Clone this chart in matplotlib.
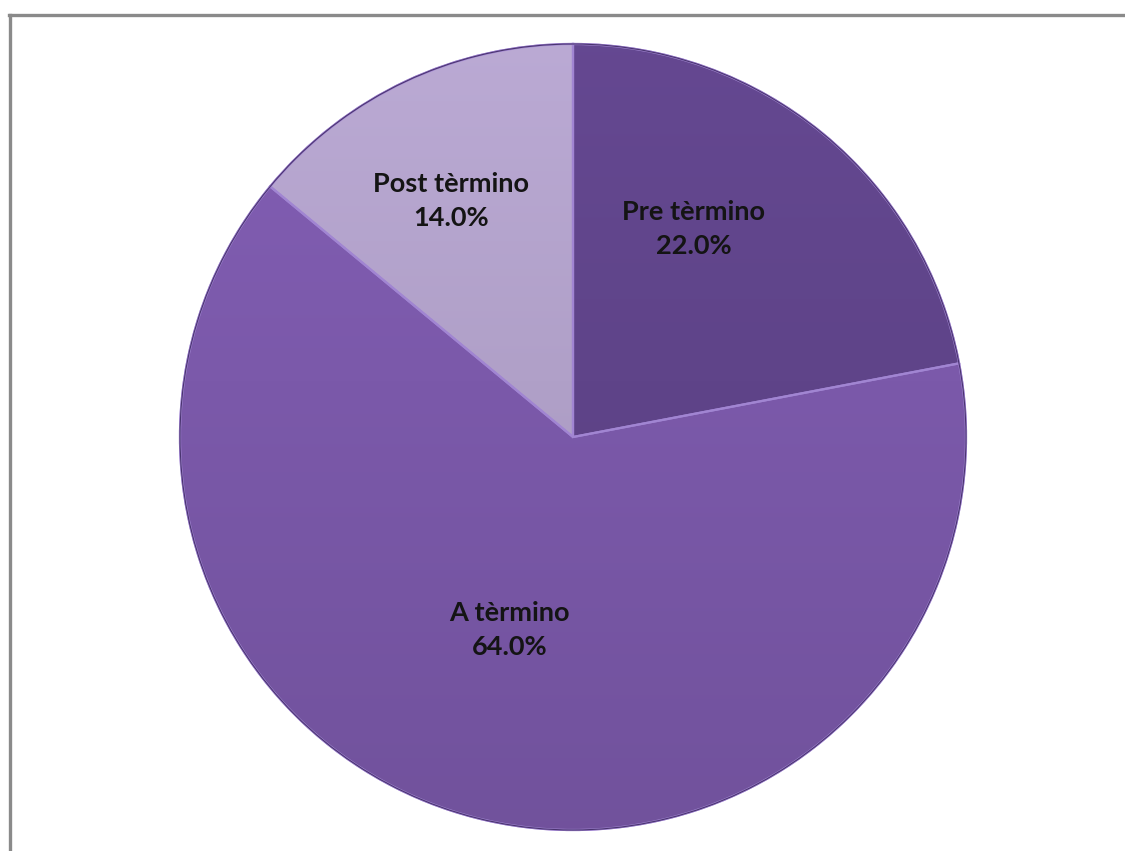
import numpy as np
import matplotlib.pyplot as plt
from matplotlib.lines import Line2D
from matplotlib.colors import to_rgb

# dati
categorie = ["Pre tèrmino", "A tèrmino", "Post tèrmino"]
percentuali = [22.0, 64.0, 14.0]
colori = ["#5f4489", "#7b59aa", "#b0a0c8"]

# posizione delle etichette (angolo in gradi, distanza dal centro in frazione del raggio)
pos_etichette = [(59.9, 0.613), (-108.3, 0.517), (117.4, 0.675)]

W, H = 1125, 851
cx, cy, r = 573, H - 437, 393

fig = plt.figure(figsize=(W / 100, H / 100), dpi=100)
ax = fig.add_axes([0, 0, 1, 1])

wedges, _ = ax.pie(
    percentuali,
    colors=colori,
    startangle=90,
    counterclock=False,
    center=(cx, cy),
    radius=r,
    frame=True,
    wedgeprops=dict(edgecolor="#9c80cc", linewidth=1.6),
)
ax.set_xlim(0, W)
ax.set_ylim(0, H)
ax.set_aspect("equal")
ax.axis("off")

# leggero sfumato verticale dentro ogni spicchio
yy = np.linspace(1, 0, 256)[:, None]
for w, c in zip(wedges, colori):
    base = np.array(to_rgb(c))
    shade = 1.06 - 0.14 * (1 - yy)
    img = np.clip(base[None, None, :] * shade[:, :, None] * np.ones((1, 2, 1)), 0, 1)
    im = ax.imshow(img, extent=(cx - r, cx + r, cy - r, cy + r),
                   aspect="auto", zorder=w.get_zorder() + 0.1, interpolation="bilinear")
    im.set_clip_path(w)
    edge = w.__class__(w.center, w.r, w.theta1, w.theta2,
                       facecolor="none", edgecolor="#a185d2", linewidth=1.6,
                       zorder=w.get_zorder() + 0.2)
    ax.add_patch(edge)

# contorno esterno scuro
ax.add_patch(plt.Circle((cx, cy), r, facecolor="none", edgecolor="#4a3470",
                        linewidth=0.8, zorder=5))

for (ang, d), nome, p in zip(pos_etichette, categorie, percentuali):
    a = np.deg2rad(ang)
    ax.text(cx + d * r * np.cos(a), cy + d * r * np.sin(a), f"{nome}\n{p:.1f}%",
            ha="center", va="center", fontsize=19.5, fontweight="bold",
            family="Lato", color="#141414", linespacing=1.5, zorder=6)

# cornice grigia
fig.add_artist(Line2D([9 / W, 1], [1 - 15 / H, 1 - 15 / H], color="#8a8a8a",
                      linewidth=2.4, transform=fig.transFigure))
fig.add_artist(Line2D([10 / W, 10 / W], [0, 1 - 15 / H], color="#8a8a8a",
                      linewidth=2.4, transform=fig.transFigure))

fig.savefig("out.png", dpi=100, facecolor="white")
